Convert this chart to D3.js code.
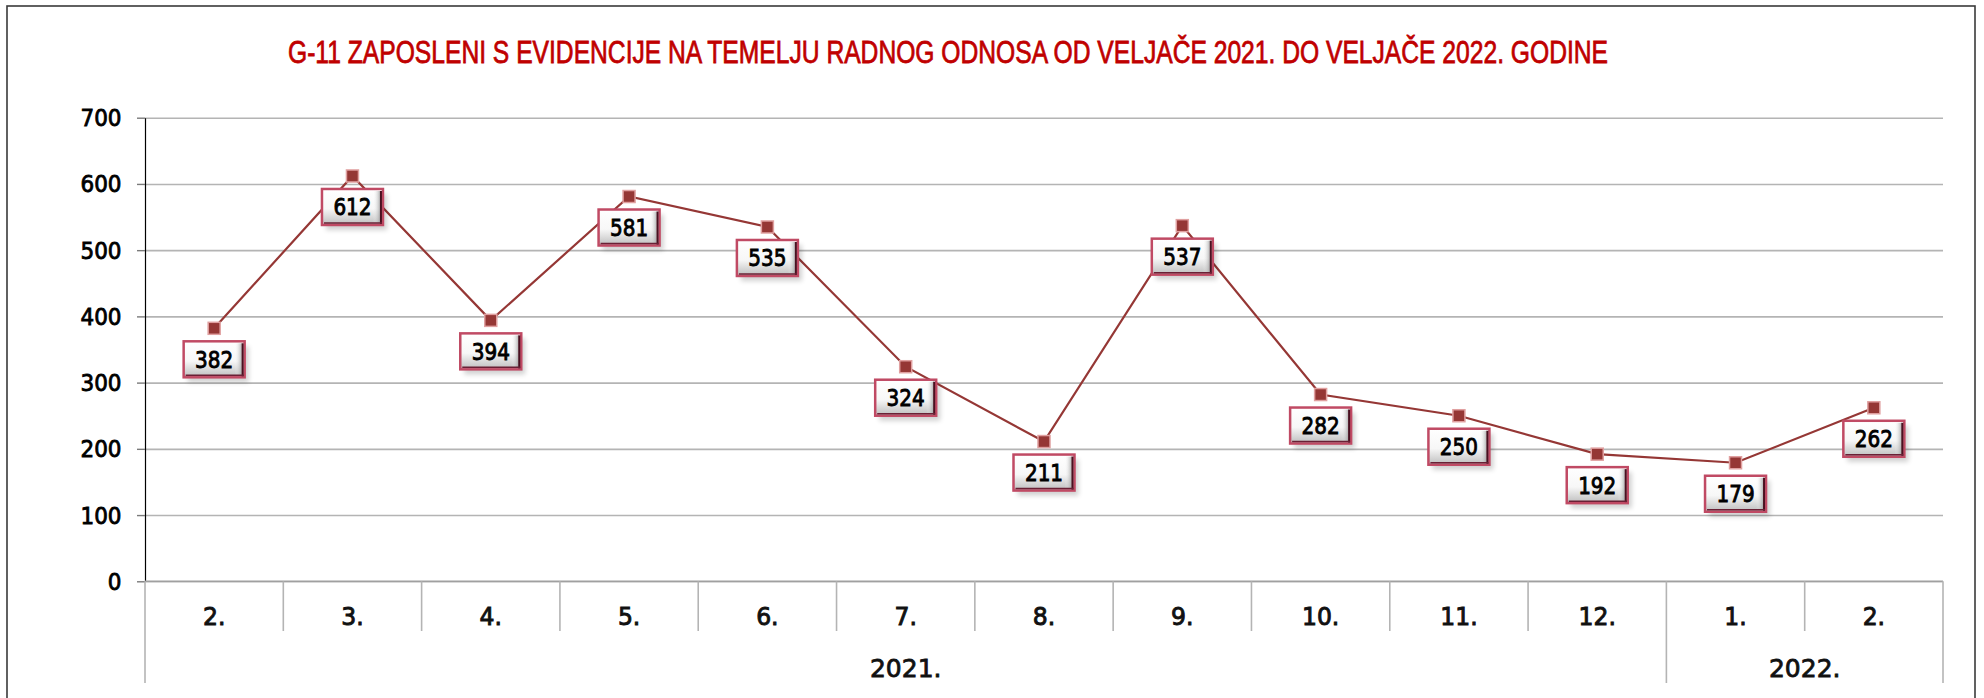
<!DOCTYPE html>
<html><head><meta charset="utf-8">
<script src="https://cdn.jsdelivr.net/npm/d3@7"></script>
<style>
html,body{margin:0;padding:0;background:#fff;}
svg{display:block;}
</style></head>
<body>
<script>
// ---- data ----
const titleText = "G-11 ZAPOSLENI S EVIDENCIJE NA TEMELJU RADNOG ODNOSA OD VELJAČE 2021. DO VELJAČE 2022. GODINE";
const months = ["2.","3.","4.","5.","6.","7.","8.","9.","10.","11.","12.","1.","2."];
const values = [382, 612, 394, 581, 535, 324, 211, 537, 282, 250, 192, 179, 262];
const yearLabels = ["2021.", "2022."];
const yearSpans = [11, 2];
const yTicks = [0, 100, 200, 300, 400, 500, 600, 700];

// ---- layout ----
const W = 1984, H = 698;
const pLeft = 145, pRight = 1943, pTop = 117.7, pBottom = 581.3;
const FONT = "'DejaVu Sans', Verdana, sans-serif";

const svg = d3.select("body").append("svg").attr("width", W).attr("height", H);
const defs = svg.append("defs");
const grad = defs.append("linearGradient").attr("id","boxg").attr("x1",0).attr("y1",0).attr("x2",0).attr("y2",1);
grad.append("stop").attr("offset","0%").attr("stop-color","#ffffff");
grad.append("stop").attr("offset","55%").attr("stop-color","#f7f7f7");
grad.append("stop").attr("offset","100%").attr("stop-color","#bdbdbd");
const gradR = defs.append("linearGradient").attr("id","boxr").attr("x1",0).attr("y1",0).attr("x2",1).attr("y2",0);
gradR.append("stop").attr("offset","0%").attr("stop-color","#ffffff").attr("stop-opacity",0);
gradR.append("stop").attr("offset","100%").attr("stop-color","#8a8a8a").attr("stop-opacity",0.8);
const filt = defs.append("filter").attr("id","shadow").attr("x","-20%").attr("y","-20%").attr("width","160%").attr("height","160%");
filt.append("feGaussianBlur").attr("stdDeviation", 2.5);

svg.append("rect").attr("width",W).attr("height",H).attr("fill","#fff");
// outer border
svg.append("rect").attr("x",7).attr("y",6).attr("width",1968).attr("height",720)
  .attr("fill","none").attr("stroke","#3a3a3a").attr("stroke-width",1.6);

// title
svg.append("text").attr("transform","translate(948,63) scale(1,1.08)").attr("text-anchor","middle")
  .attr("font-family","'Liberation Sans', Arial, sans-serif").attr("font-size",29)
  .attr("fill","#c00000").attr("stroke","#c00000").attr("stroke-width",0.7)
  .attr("textLength",1320).attr("lengthAdjust","spacingAndGlyphs")
  .text(titleText);

// scales
const x = d3.scaleBand().domain(d3.range(months.length)).range([pLeft, pRight]).paddingInner(0).paddingOuter(0);
const y = d3.scaleLinear().domain([0, 700]).range([pBottom, pTop]);

// gridlines
const grid = svg.append("g").attr("transform", `translate(${pLeft},0)`)
  .call(d3.axisLeft(y).tickValues(yTicks).tickSize(-(pRight-pLeft)).tickFormat(""));
grid.select(".domain").remove();
grid.selectAll(".tick line").attr("stroke","#b4b4b4").attr("stroke-width",1.6);

// y axis
const yAxis = svg.append("g").attr("transform", `translate(${pLeft},0)`)
  .call(d3.axisLeft(y).tickValues(yTicks).tickSize(8).tickPadding(0).tickSizeOuter(0));
yAxis.select(".domain").attr("stroke","#000").attr("stroke-width",1.2);
yAxis.selectAll(".tick line").attr("stroke","#7a7a7a").attr("stroke-width",1.4);
yAxis.selectAll(".tick text")
  .attr("x", null).attr("dy", null)
  .attr("transform","translate(-23.5,8) scale(1,1.08)")
  .attr("font-family",FONT).attr("font-size",21.5)
  .attr("fill","#000").attr("stroke","#000").attr("stroke-width",0.8);

// x axis base line
svg.append("line").attr("x1",pLeft).attr("x2",pRight).attr("y1",pBottom).attr("y2",pBottom)
  .attr("stroke","#a0a0a0").attr("stroke-width",1.6);

// category dividers
const xb = svg.append("g");
const boundaries = d3.range(months.length + 1);
let yearBounds = [0];
yearSpans.reduce((a, s) => { yearBounds.push(a + s); return a + s; }, 0);
const bx = i => i < months.length ? x(i) : x(months.length-1) + x.bandwidth();
xb.selectAll("line.cat").data(boundaries).join("line")
  .attr("x1", bx).attr("x2", bx)
  .attr("y1", pBottom)
  .attr("y2", i => yearBounds.includes(i) ? 683 : 631)
  .attr("stroke","#b4b4b4").attr("stroke-width",1.6);

// month labels
svg.append("g").selectAll("text").data(months).join("text")
  .attr("transform", (d,i) => `translate(${x(i) + x.bandwidth()/2},625) scale(1,1.05)`)
  .attr("text-anchor","middle").attr("font-family",FONT)
  .attr("font-size",23.5).attr("fill","#111").attr("stroke","#111").attr("stroke-width",0.9)
  .text(d => d);

// year labels
svg.append("g").selectAll("text").data(yearLabels).join("text")
  .attr("transform", (d,i) => `translate(${(bx(yearBounds[i]) + bx(yearBounds[i+1])) / 2},677)`)
  .attr("text-anchor","middle")
  .attr("font-family",FONT)
  .attr("font-size",25).attr("fill","#111").attr("stroke","#111").attr("stroke-width",0.8)
  .text(d => d);

// line
const cx = i => x(i) + x.bandwidth()/2;
svg.append("path").datum(values)
  .attr("d", d3.line().x((d,i) => cx(i)).y(d => y(d)))
  .attr("fill","none").attr("stroke","#953735").attr("stroke-width",2.2);

// markers
svg.append("g").selectAll("rect").data(values).join("rect")
  .attr("x", (d,i) => cx(i) - 6).attr("y", d => y(d) - 6)
  .attr("width",12).attr("height",12)
  .attr("fill","#953735").attr("stroke","#e0a0a0").attr("stroke-width",1.5);

// data labels (boxes below points)
const bw = 61, bh = 36, off = 13;
const lab = svg.append("g").selectAll("g").data(values).join("g")
  .attr("transform", (d,i) => `translate(${cx(i) - bw/2},${y(d) + off})`);
lab.append("rect").attr("x",4).attr("y",5).attr("width",bw).attr("height",bh)
  .attr("fill","#000").attr("opacity",0.18).attr("filter","url(#shadow)");
lab.append("rect").attr("width",bw).attr("height",bh)
  .attr("fill","url(#boxg)").attr("stroke","#c04a64").attr("stroke-width",2.5);
lab.append("rect").attr("x",bw-10).attr("y",2).attr("width",8).attr("height",bh-4)
  .attr("fill","url(#boxr)");
lab.append("line").attr("x1",bw-2).attr("x2",bw-2).attr("y1",2).attr("y2",bh-1)
  .attr("stroke","#4a1020").attr("stroke-width",2);
lab.append("line").attr("x1",2).attr("x2",bw-1).attr("y1",bh-2).attr("y2",bh-2)
  .attr("stroke","#6a2035").attr("stroke-width",1.5);
lab.append("text").attr("transform",`translate(${bw/2},${bh/2 + 8.5}) scale(1,1.18)`)
  .attr("text-anchor","middle").attr("font-family",FONT)
  .attr("font-size",20).attr("fill","#000").attr("stroke","#000").attr("stroke-width",0.8)
  .text(d => d);
</script>
</body></html>
